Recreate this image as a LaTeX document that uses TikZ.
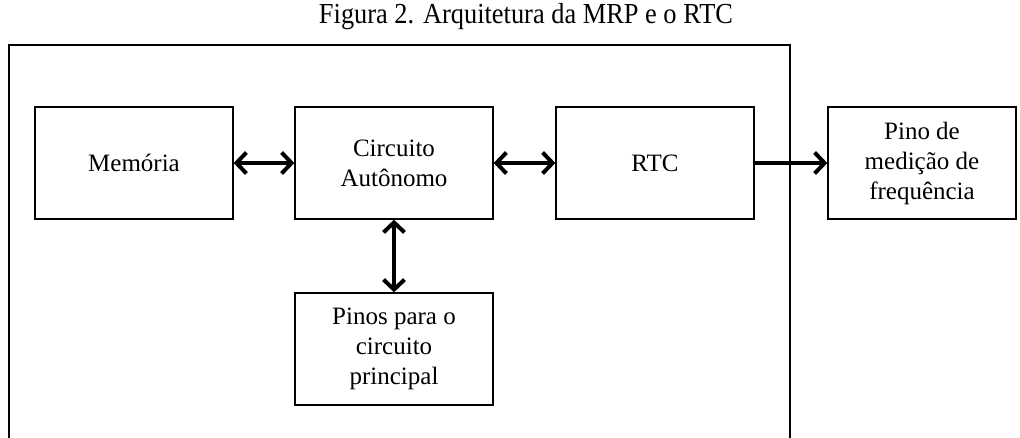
\documentclass[tikz,border=0pt]{standalone}
\usepackage{fontspec}
\setmainfont{Liberation Serif}
\usetikzlibrary{arrows.meta}

\tikzset{
  blockbox/.style={draw, line width=1.3pt, minimum width=198pt, minimum height=112pt,
    align=center, font=\fontsize{25}{30}\selectfont, inner sep=0pt},
  linkarrow/.style={line width=4pt, {Straight Barb[length=10pt,width=21pt,line width=4pt]}-{Straight Barb[length=10pt,width=21pt,line width=4pt]}},
  onearrow/.style={line width=4pt, -{Straight Barb[length=10pt,width=21pt,line width=4pt]}}
}

\begin{document}
\begin{tikzpicture}[x=1pt,y=-1pt]
  \useasboundingbox (0,0) rectangle (1020,438);

  % Title
  \node (title) at (526,17) {\fontsize{29}{34}\selectfont\scalebox{0.91}[1]{Figura 2. Arquitetura da MRP e o RTC}};

  % Outer frame (open at the bottom)
  \draw[line width=1.3pt] (9,438) -- (9,45) -- (790,45) -- (790,438);

  % Blocks
  \node[blockbox] (mem) at (134,163) {Memória};
  \node[blockbox] (circ) at (394,163) {Circuito\\Autônomo};
  \node[blockbox] (rtc) at (655,163) {RTC};
  \node[blockbox, minimum width=188pt] (pino) at (922,163) {Pino de\\medição de\\frequência};
  \node[blockbox] (pinos) at (394,349) {Pinos para o\\circuito\\principal};

  % Connections
  \draw[linkarrow] (mem) -- (circ);
  \draw[linkarrow] (circ) -- (rtc);
  \draw[linkarrow] (circ) -- (pinos);
  \draw[onearrow] (rtc) -- (pino);
\end{tikzpicture}
\end{document}
